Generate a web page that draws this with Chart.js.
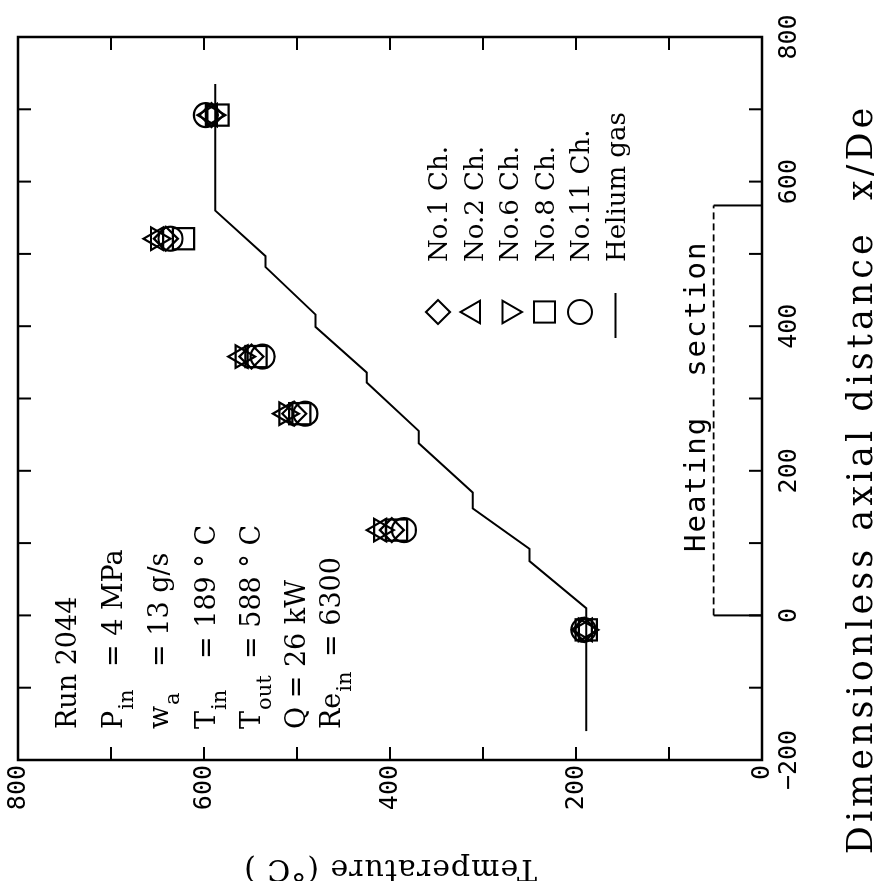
<!DOCTYPE html>
<html>
<head>
<meta charset="utf-8">
<script src="https://cdn.jsdelivr.net/npm/chart.js@4.4.1/dist/chart.umd.min.js"></script>
<style>
  html, body { margin: 0; padding: 0; background: #fff; }
  #wrap { position: relative; width: 874px; height: 881px; overflow: hidden; }
  /* the plot is laid out lying on its side: x/De runs up the page */
  #chart { position: absolute; left: 0; top: 0; transform-origin: 0 0; transform: translate(0, 881px) rotate(-90deg); }
</style>
</head>
<body>
<div id="wrap"><canvas id="chart" width="881" height="874"></canvas></div>
<script>
// thermocouple stations along the channel (x/De)
const stations = [-20, 118, 279, 358, 521, 692];
// wall temperatures, deg C
const ch1  = [191, 398, 503, 549, 641, 592];
const ch2  = [190, 411, 512, 560, 651, 593];
const ch6  = [190, 410, 512, 559, 650, 591];
const ch8  = [189, 393, 497, 544, 622, 585];
const ch11 = [192, 385, 491, 537, 636, 598];

// helium bulk temperature
const heliumX = [-160, 10, 75, 92, 148, 170, 238, 255, 322, 336, 399, 416, 482, 497, 560, 735];
const heliumT = [189, 189, 250, 250, 311, 311, 369, 369, 425, 425, 480, 480, 534, 534, 588, 588];

// heated length and the bracket height that marks it
const heatingSection = [0, 567];
const heatLevel = 52;

const runInfo = [
  { t: 'Run 2044' },
  { t: 'P', s: 'in', r: '= 4 MPa', rx: 214 },
  { t: 'w', s: 'a', r: '= 13 g/s', rx: 214 },
  { t: 'T', s: 'in', r: '= 189 ° C', rx: 222 },
  { t: 'T', s: 'out', r: '= 588 ° C', rx: 222 },
  { t: 'Q = 26 kW' },
  { t: 'Re', s: 'in', r: '= 6300', rx: 224 }
];
const runBaselines = [76, 122, 168, 215, 260, 305, 340];

const legendItems = [
  { label: 'No.1 Ch.', style: 'rectRot', r: 12, rot: 0 },
  { label: 'No.2 Ch.', style: 'triangle', r: 13, rot: 0 },
  { label: 'No.6 Ch.', style: 'triangle', r: 13, rot: 180 },
  { label: 'No.8 Ch.', style: 'rect', r: 15, rot: 0 },
  { label: 'No.11 Ch.', style: 'circle', r: 12, rot: 0 },
  { label: 'Helium gas', style: 'line' }
];

const SERIF = '"DejaVu Serif", serif';
const MONO = '"DejaVu Sans Mono", monospace';

const toPts = (xs, ys) => xs.map((x, i) => ({ x: x, y: ys[i] }));

function channel(label, values, style, radius, rotation) {
  return {
    label: label,
    data: toPts(stations, values),
    showLine: false,
    pointStyle: style,
    pointRadius: radius,
    pointRotation: rotation,
    pointBorderColor: '#000',
    pointBackgroundColor: 'rgba(0,0,0,0)',
    pointBorderWidth: 2.2
  };
}

function segment(xs, ys, dash) {
  return {
    data: toPts(xs, ys),
    showLine: true,
    borderColor: '#000',
    borderWidth: dash ? 1.6 : 2,
    borderDash: dash || [],
    pointRadius: 0,
    tension: 0
  };
}

function tickLabel(v) {
  return v % 200 === 0 ? String(v).replace('-', '\u2212') : '';
}

const decor = {
  id: 'decor',
  afterDraw(chart) {
    const ctx = chart.ctx;
    const a = chart.chartArea;
    const xs = chart.scales.x, ys = chart.scales.y;
    ctx.save();
    ctx.strokeStyle = '#000';
    ctx.fillStyle = '#000';

    // frame
    ctx.lineWidth = 2.5;
    ctx.strokeRect(a.left, a.top, a.right - a.left, a.bottom - a.top);

    // inward ticks on all four sides
    ctx.lineWidth = 2;
    const len = 13;
    ctx.beginPath();
    xs.ticks.forEach(t => {
      const p = xs.getPixelForValue(t.value);
      ctx.moveTo(p, a.bottom); ctx.lineTo(p, a.bottom - len);
      ctx.moveTo(p, a.top); ctx.lineTo(p, a.top + len);
    });
    ys.ticks.forEach(t => {
      const p = ys.getPixelForValue(t.value);
      ctx.moveTo(a.left, p); ctx.lineTo(a.left + len, p);
      ctx.moveTo(a.right, p); ctx.lineTo(a.right - len, p);
    });
    ctx.stroke();

    // heating section label
    ctx.font = '29px ' + MONO;
    ctx.letterSpacing = '2px';
    ctx.textAlign = 'center';
    ctx.textBaseline = 'alphabetic';
    ctx.fillText('Heating  section', xs.getPixelForValue(303), ys.getPixelForValue(61));
    ctx.letterSpacing = '0px';

    // run conditions
    ctx.textAlign = 'left';
    runInfo.forEach((ln, i) => {
      const y = runBaselines[i];
      let x = 152;
      ctx.font = '27px ' + SERIF;
      ctx.fillText(ln.t, x, y);
      x += ctx.measureText(ln.t).width;
      if (ln.s) {
        ctx.font = '21px ' + SERIF;
        ctx.fillText(ln.s, x + 1, y + 11);
        x += ctx.measureText(ln.s).width + 4;
      }
      if (ln.r) {
        ctx.font = '27px ' + SERIF;
        ctx.fillText(ln.r, Math.max(x, ln.rx), y);
      }
    });

    // legend
    ctx.lineWidth = 2;
    legendItems.forEach((it, i) => {
      const cy = 438 + i * 35.5;
      if (it.style === 'line') {
        ctx.beginPath();
        ctx.moveTo(543, cy);
        ctx.lineTo(588, cy);
        ctx.stroke();
      } else {
        ctx.fillStyle = 'rgba(0,0,0,0)';
        Chart.helpers.drawPoint(ctx, { pointStyle: it.style, radius: it.r, rotation: it.rot, borderWidth: 2 }, 569, cy);
        ctx.fillStyle = '#000';
      }
      ctx.font = '26px ' + SERIF;
      ctx.fillText(it.label, 619, cy + 9);
    });

    // axis titles
    ctx.font = '35px ' + SERIF;
    ctx.letterSpacing = '4px';
    ctx.textAlign = 'center';
    ctx.fillText('Dimensionless axial distance  x/De', 402, 872);

    ctx.translate(21, (a.top + a.bottom) / 2);
    ctx.rotate(-Math.PI / 2);
    ctx.font = '30px ' + SERIF;
    ctx.letterSpacing = '1px';
    ctx.fillText('Temperature (°C )', 0, 0);
    ctx.restore();
  }
};

new Chart(document.getElementById('chart'), {
  type: 'scatter',
  data: {
    datasets: [
      segment(heliumX, heliumT),
      segment([heatingSection[0], heatingSection[0]], [0, heatLevel]),
      segment(heatingSection, [heatLevel, heatLevel], [7, 4]),
      segment([heatingSection[1], heatingSection[1]], [0, heatLevel]),
      channel('No.1 Ch.', ch1, 'rectRot', 12, 0),
      channel('No.2 Ch.', ch2, 'triangle', 13, 0),
      channel('No.6 Ch.', ch6, 'triangle', 13, 180),
      channel('No.8 Ch.', ch8, 'rect', 15, 0),
      channel('No.11 Ch.', ch11, 'circle', 12, 0)
    ]
  },
  options: {
    responsive: false,
    animation: false,
    events: [],
    layout: { padding: { top: 18, right: 37, bottom: 0, left: 0 } },
    plugins: { legend: { display: false }, tooltip: { enabled: false } },
    scales: {
      x: {
        type: 'linear', min: -200, max: 800,
        grid: { display: false, drawTicks: false },
        border: { display: false },
        ticks: {
          stepSize: 100, autoSkip: false, maxRotation: 0, padding: 12,
          color: '#000', font: { family: MONO, size: 25 },
          callback: tickLabel
        },
        afterFit(scale) {
          scale.height = 112;
          scale.paddingLeft = 0;
          scale.paddingRight = 0;
        }
      },
      y: {
        type: 'linear', min: 0, max: 800,
        grid: { display: false, drawTicks: false },
        border: { display: false },
        ticks: {
          stepSize: 100, autoSkip: false, padding: 5,
          color: '#000', font: { family: MONO, size: 25 },
          callback: tickLabel
        },
        afterFit(scale) {
          scale.width = 121;
          scale.paddingTop = 0;
          scale.paddingBottom = 0;
        }
      }
    }
  },
  plugins: [decor]
});
</script>
</body>
</html>
